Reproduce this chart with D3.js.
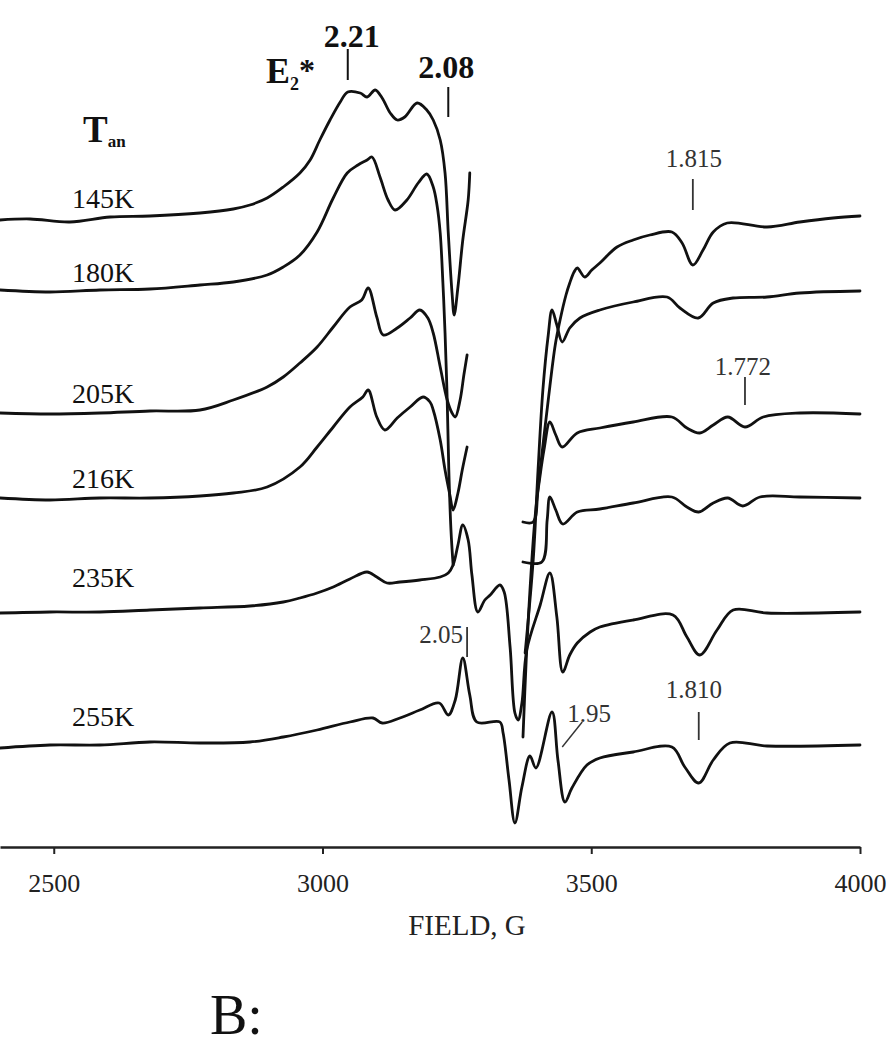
<!DOCTYPE html>
<html><head><meta charset="utf-8">
<script src="https://cdn.jsdelivr.net/npm/d3@7"></script>
<style>body{margin:0;background:#fff} svg{display:block} text{font-family:'Liberation Serif','Times New Roman',serif}</style>
</head><body>
<svg id="c" width="893" height="1050"></svg>
<script>
// ---------------- DATA ----------------
const fieldTicks = [2500, 3000, 3500, 4000];
const temperatures = ["145K", "180K", "205K", "216K", "235K", "255K"];
const traceOffsets = [629, 556, 434, 350, 235, 101]; // vertical stacking offsets (a.u.)

// each spectrum: [field (G), signal (a.u.)]; upper spectra are drawn in two cut pieces
const s145a = [[2400,-2],[2456,-1],[2530,-4],[2605,1],[2679,2],[2772,5],[2834,9],[2865,13],[2897,20],[2927,31],[2958,45],[2977,58],[2995,78],[3014,98],[3033,116],[3047,126],[3070,125],[3083,121],[3098,128],[3111,120],[3126,105],[3139,98],[3153,101],[3176,115],[3194,108],[3206,98],[3219,78],[3228,45],[3234,-15],[3241,-75],[3245,-97],[3252,-69],[3261,-22],[3271,18],[3274,45]];
const s145b = [[3373,-519],[3379,-442],[3386,-372],[3395,-302],[3407,-242],[3420,-182],[3433,-127],[3442,-102],[3453,-77],[3460,-65],[3468,-54],[3474,-50],[3488,-59],[3501,-52],[3516,-45],[3548,-29],[3578,-22],[3609,-17],[3650,-14],[3669,-25],[3689,-47],[3708,-32],[3727,-14],[3753,-5],[3827,-9],[3888,-4],[3950,0],[4000,2]];
const s180a = [[2400,1],[2493,-1],[2586,1],[2679,2],[2772,6],[2834,9],[2897,16],[2927,24],[2958,36],[2990,59],[3020,93],[3046,118],[3066,126],[3083,131],[3092,134],[3107,114],[3122,91],[3135,81],[3157,91],[3178,108],[3194,117],[3206,104],[3213,86],[3219,58],[3224,8],[3228,-42],[3232,-109],[3235,-179],[3239,-239],[3243,-274]];
const s180b = [[3377,-362],[3392,-269],[3401,-179],[3410,-99],[3420,-44],[3427,-19],[3436,-34],[3446,-51],[3460,-37],[3479,-27],[3516,-19],[3578,-11],[3641,-6],[3665,-17],[3699,-27],[3727,-12],[3764,-7],[3827,-6],[3888,-2],[4000,0]];
const s205a = [[2400,0],[2493,-1],[2586,0],[2679,2],[2772,3],[2834,13],[2897,26],[2927,36],[2958,50],[2990,66],[3020,86],[3051,106],[3073,113],[3085,125],[3101,96],[3113,78],[3139,85],[3163,95],[3181,103],[3196,95],[3206,80],[3219,46],[3232,13],[3241,0],[3247,-4],[3256,13],[3263,38],[3269,58]];
const s205b = [[3373,-109],[3392,-109],[3401,-77],[3412,-37],[3423,-9],[3434,-22],[3446,-34],[3474,-20],[3516,-15],[3578,-9],[3650,-4],[3678,-15],[3702,-20],[3727,-12],[3754,-4],[3786,-14],[3820,-4],[3888,0],[4000,-1]];
const s216a = [[2400,-1],[2493,-3],[2586,-1],[2679,-1],[2772,1],[2834,4],[2897,10],[2958,30],[2990,50],[3020,70],[3051,90],[3075,100],[3085,107],[3101,80],[3116,67],[3139,79],[3163,90],[3187,100],[3200,95],[3206,87],[3219,57],[3228,27],[3237,2],[3243,-13],[3252,4],[3260,27],[3269,50]];
const s216b = [[3373,-65],[3408,-65],[3418,-23],[3423,0],[3434,-13],[3447,-27],[3474,-15],[3516,-12],[3578,-6],[3650,0],[3678,-10],[3700,-15],[3727,-6],[3754,-1],[3782,-9],[3814,0],[3888,0],[4000,-1]];
const s235 = [[2400,-1],[2493,0],[2586,0],[2679,2],[2772,4],[2865,6],[2927,10],[2958,14],[2990,19],[3020,25],[3051,33],[3083,40],[3101,35],[3120,29],[3144,30],[3181,32],[3219,35],[3234,39],[3243,47],[3252,67],[3261,87],[3271,72],[3278,37],[3289,0],[3302,12],[3312,17],[3330,27],[3338,20],[3349,-35],[3358,-101],[3364,-108],[3371,-91],[3380,-38],[3405,7],[3423,39],[3436,-5],[3447,-60],[3460,-43],[3474,-31],[3498,-20],[3516,-15],[3578,-8],[3652,-3],[3678,-25],[3702,-43],[3734,-18],[3764,2],[3827,-1],[4000,0]];
const s255 = [[2400,-2],[2493,1],[2586,1],[2679,4],[2772,3],[2865,4],[2927,9],[2990,16],[3051,24],[3094,28],[3111,23],[3144,28],[3181,36],[3217,43],[3234,31],[3247,46],[3261,88],[3274,51],[3287,24],[3330,24],[3336,13],[3347,-34],[3358,-77],[3371,-41],[3386,-10],[3397,-22],[3427,34],[3438,-14],[3451,-56],[3464,-42],[3492,-19],[3516,-12],[3578,-6],[3650,-1],[3674,-21],[3700,-37],[3727,-14],[3758,3],[3827,0],[4000,1]];
const spectra = [[s145a, s145b], [s180a, s180b], [s205a, s205b], [s216a, s216b], [s235], [s255]];

// g-value markers
const gLabels = ["2.21", "2.08", "1.815", "1.772", "2.05", "1.810", "1.95"];
const gFields = [3047, 3234, 3689, 3786, 3269, 3700, 3446];

// ---------------- CHART ----------------
const svg = d3.select("#c");
const x = d3.scaleLinear().domain([2400, 4000]).range([0, 860]);
const y = d3.scaleLinear().domain([0, 847]).range([847, 0]);
const serif = "'Liberation Serif','Times New Roman',serif";

const line = d3.line().x(d => x(d[0])).y(d => y(d[1])).curve(d3.curveCatmullRom.alpha(0.5));

spectra.forEach((pieces, i) => {
  pieces.forEach(p => {
    svg.append("path")
      .datum(p.map(d => [d[0], d[1] + traceOffsets[i]]))
      .attr("d", line)
      .attr("fill", "none")
      .attr("stroke", "#111")
      .attr("stroke-width", 2.8)
      .attr("stroke-linejoin", "round")
      .attr("stroke-linecap", "round");
  });
});

// temperature labels
const tempDy = [10, 9, 10, 9, 25, 20];
svg.selectAll("text.temp").data(temperatures).enter().append("text")
  .attr("class", "temp")
  .attr("x", 72)
  .attr("y", (d, i) => y(traceOffsets[i] + tempDy[i]))
  .attr("font-family", serif).attr("font-size", 28).attr("fill", "#111")
  .text(d => d);

// T_an
const tan = svg.append("text").attr("x", 83).attr("y", 142)
  .attr("font-family", serif).attr("font-weight", "bold").attr("font-size", 37).attr("fill", "#111");
tan.append("tspan").text("T");
tan.append("tspan").attr("font-size", 17).attr("dy", 5).text("an");

// E2*
const e2 = svg.append("text").attr("x", 266).attr("y", 83)
  .attr("font-family", serif).attr("font-weight", "bold").attr("font-size", 36).attr("fill", "#111");
e2.append("tspan").text("E");
e2.append("tspan").attr("font-size", 18).attr("dy", 7).text("2");
e2.append("tspan").attr("font-size", 32).attr("dy", -9).text("*");

// g markers layout (pixels)
const gLayout = [
  {dx: 4, ty: 47, t1: 49, t2: 80, bold: true, anchor: "middle", fs: 32},
  {dx: -2, ty: 78, t1: 87, t2: 117, bold: true, anchor: "middle", fs: 32},
  {dx: 1, ty: 167, t1: 179, t2: 210, bold: false, anchor: "middle", fs: 25},
  {dx: -2, ty: 375, t1: 377, t2: 405, bold: false, anchor: "middle", fs: 25},
  {dx: -4, ty: 643, t1: 627, t2: 657, bold: false, anchor: "end", fs: 25},
  {dx: -5, ty: 698, t1: 712, t2: 740, bold: false, anchor: "middle", fs: 25},
  {dx: 5, ty: 722, t1: 747, t2: 722, bold: false, anchor: "start", fs: 25, leader: true}
];
gLabels.forEach((lab, i) => {
  const L = gLayout[i];
  const gx = x(gFields[i]);
  const col = L.bold ? "#111" : "#333";
  if (L.leader) {
    svg.append("line").attr("x1", gx).attr("y1", L.t1).attr("x2", gx + 20).attr("y2", L.t2)
      .attr("stroke", col).attr("stroke-width", 1.4);
  } else {
    svg.append("line").attr("x1", gx).attr("x2", gx).attr("y1", L.t1).attr("y2", L.t2)
      .attr("stroke", col).attr("stroke-width", L.bold ? 2 : 1.8);
  }
  svg.append("text").attr("x", gx + L.dx).attr("y", L.ty)
    .attr("text-anchor", L.anchor)
    .attr("font-family", serif).attr("font-size", L.fs)
    .attr("font-weight", L.bold ? "bold" : "normal")
    .attr("fill", col).text(lab);
});

// axis
const axis = svg.append("g").attr("transform", "translate(0,847)")
  .call(d3.axisBottom(x).tickValues(fieldTicks).tickSize(7).tickSizeOuter(0).tickFormat(d3.format("d")));
axis.attr("font-family", serif).attr("font-size", 26);
axis.select(".domain").attr("stroke", "#222").attr("stroke-width", 2.5);
axis.selectAll(".tick line").attr("stroke", "#222").attr("stroke-width", 2);
axis.selectAll(".tick text")
  .style("font-family", serif).style("font-size", "26px")
  .attr("fill", "#222").attr("dy", 0).attr("y", 45);

svg.append("text").attr("x", 467).attr("y", 935).attr("text-anchor", "middle")
  .attr("font-family", serif).attr("font-size", 29).attr("fill", "#222").text("FIELD, G");

svg.append("text").attr("x", 210).attr("y", 1034)
  .attr("font-family", serif).attr("font-size", 56).attr("fill", "#111").text("B:");
</script>
</body></html>
